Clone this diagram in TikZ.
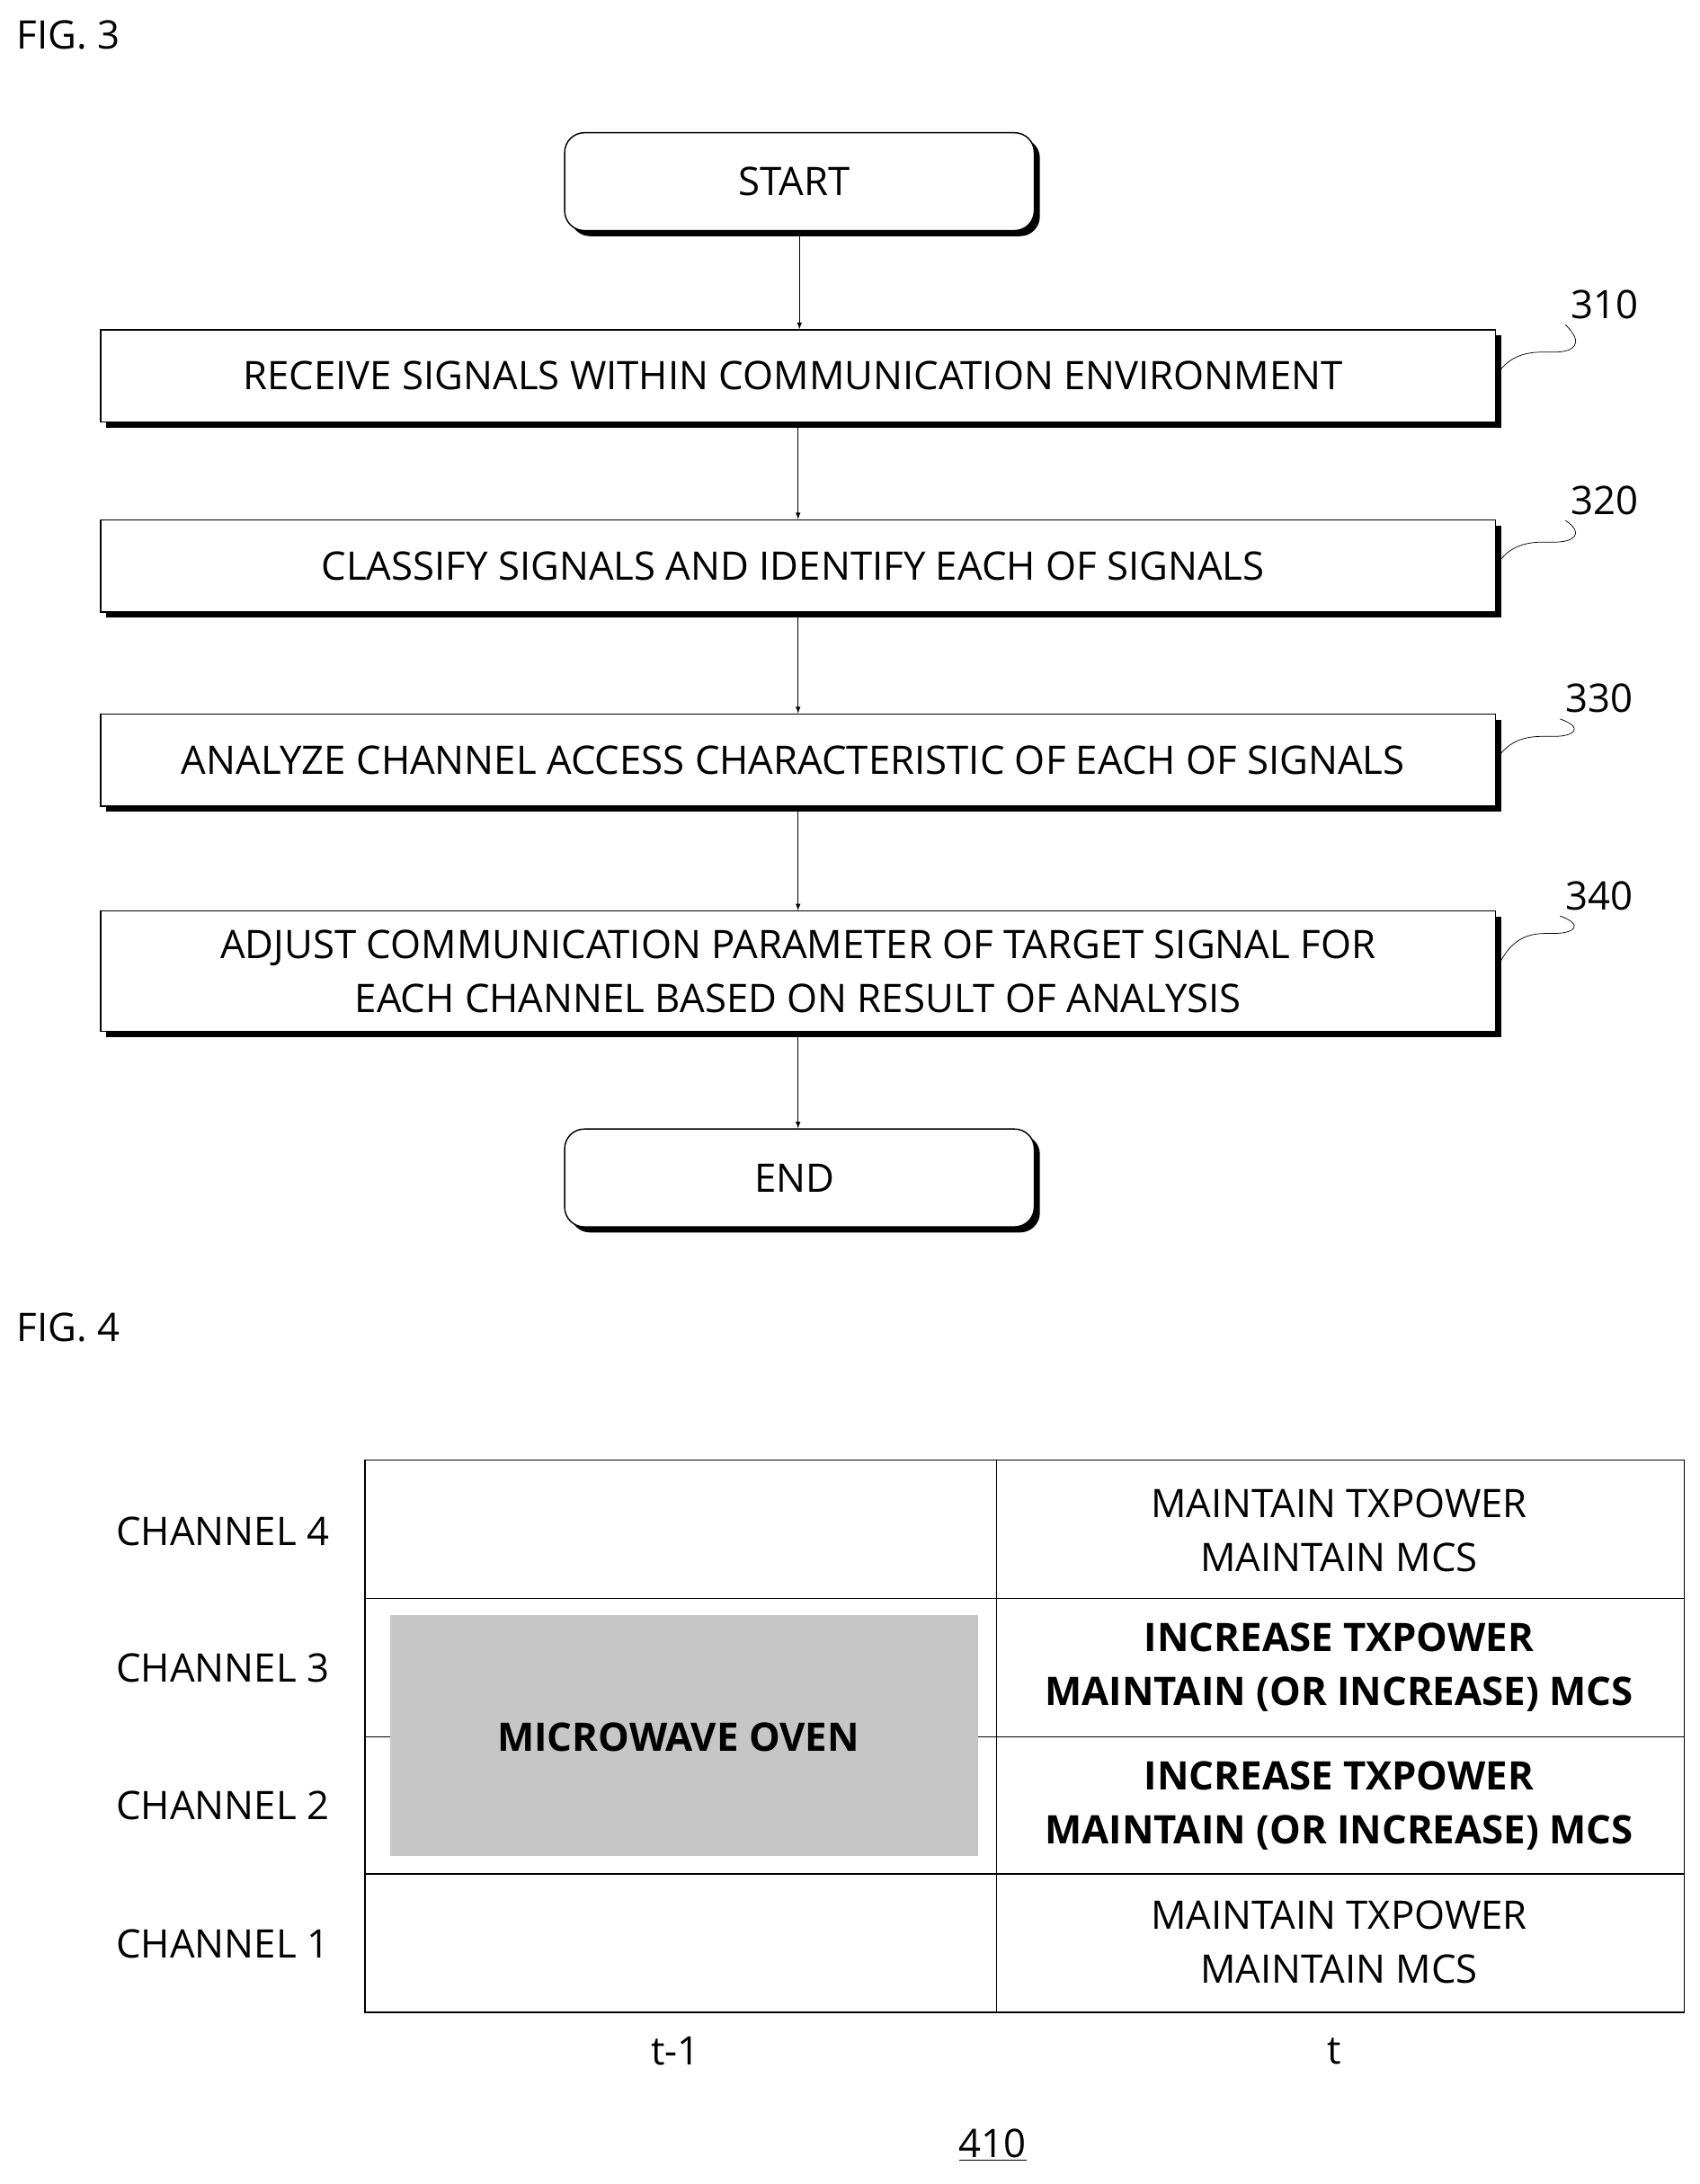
\documentclass[tikz,border=0pt]{standalone}
\usepackage{fontspec}
\setmainfont{Open Sans}
\usetikzlibrary{positioning}
\tikzset{
  txt/.style={font=\fontsize{24}{33}\selectfont, align=center},
  stage/.style={draw, thick, fill=white, txt, minimum width=998*0.03cm, minimum height=66*0.03cm, inner sep=0pt},
  term/.style={stage, rounded corners=12pt, minimum width=336*0.03cm, minimum height=70*0.03cm},
  flow/.style={-latex, thin},
  tag/.style={txt}
}
\begin{document}
\begin{tikzpicture}[x=0.03cm, y=-0.03cm]
  \useasboundingbox (0,0) rectangle (1216,1563);
  \node [anchor=west, txt] (fig3) at (8,25) { FIG. 3 };
  % shadows
  \fill [rounded corners=12pt] (408,99) rectangle (744,169);
  \fill (76,240) rectangle (1074,306);
  \fill (76,376) rectangle (1074,442);
  \fill (76,515) rectangle (1074,581);
  \fill (76,656) rectangle (1074,742);
  \fill [rounded corners=12pt] (408,812) rectangle (744,882);
  % boxes
  \node [term] (start) at (572,130) { START };
  \node [stage] (s310) at (571,269) { RECEIVE SIGNALS WITHIN COMMUNICATION ENVIRONMENT };
  \node [stage] (s320) at (571,405) { CLASSIFY SIGNALS AND IDENTIFY EACH OF SIGNALS };
  \node [stage] (s330) at (571,544) { ANALYZE CHANNEL ACCESS CHARACTERISTIC OF EACH OF SIGNALS };
  \node [stage, minimum height=86*0.03cm] (s340) at (571,695) { ADJUST COMMUNICATION PARAMETER OF TARGET SIGNAL FOR\\EACH CHANNEL BASED ON RESULT OF ANALYSIS };
  \node [term] (end) at (572,843) { END };
  \draw [flow] (start) -- (start |- s310.north);
  \draw [flow] (s310) -- (s320);
  \draw [flow] (s320) -- (s330);
  \draw [flow] (s330) -- (s340);
  \draw [flow] (s340) -- (s340 |- end.north);
  % reference numerals
  \node [tag] (n310) at (1152,218) { 310 };
  \node [tag] (n320) at (1152,358) { 320 };
  \node [tag] (n330) at (1148,500) { 330 };
  \node [tag] (n340) at (1148,641) { 340 };
  \draw (s310.east) .. controls (1082,250) and (1100,252) .. (1112,252) .. controls (1126,252) and (1134,246) .. (n310.south west);
  \draw (s320.east) .. controls (1082,386) and (1100,388) .. (1112,388) .. controls (1126,388) and (1134,382) .. (n320.south west);
  \draw (s330.east) .. controls (1082,525) and (1100,527) .. (1112,527) .. controls (1126,527) and (1134,521) .. (n330.south west);
  \draw (s340.east) .. controls (1082,666) and (1100,668) .. (1112,668) .. controls (1126,668) and (1134,662) .. (n340.south west);

  \node [anchor=west, txt] (fig4) at (8,950) { FIG. 4 };
  % table
  \fill [gray!45] (279,1156) rectangle (700,1328);
  \draw [thick] (261,1045) rectangle (1205,1440);
  \draw (713,1045) -- (713,1440);
  \draw [thick] (261,1144) -- (1205,1144);
  \draw [thick] (261,1341) -- (1205,1341);
  \draw (713,1243) -- (1205,1243);
  \draw (261,1243) -- (279,1243);
  \draw (700,1243) -- (713,1243);
  \node [txt] (ch4) at (163,1096) { CHANNEL 4 };
  \node [txt] (ch3) at (163,1194) { CHANNEL 3 };
  \node [txt] (ch2) at (163,1292) { CHANNEL 2 };
  \node [txt] (ch1) at (163,1391) { CHANNEL 1 };
  \node [txt, font=\fontsize{24}{33}\selectfont\bfseries] (oven) at (489,1243) { MICROWAVE OVEN };
  \node [txt] (a4) at (958,1095) { MAINTAIN TXPOWER\\MAINTAIN MCS };
  \node [txt, font=\fontsize{24}{33}\selectfont\bfseries] (a3) at (958,1193) { INCREASE TXPOWER\\MAINTAIN (OR INCREASE) MCS };
  \node [txt, font=\fontsize{24}{33}\selectfont\bfseries] (a2) at (958,1292) { INCREASE TXPOWER\\MAINTAIN (OR INCREASE) MCS };
  \node [txt] (a1) at (958,1390) { MAINTAIN TXPOWER\\MAINTAIN MCS };
  \node [txt] (tm1) at (487,1468) { t-1 };
  \node [txt] (tt) at (958,1468) { t };
  \node [txt] (n410) at (714,1535) { \underline{410} };
\end{tikzpicture}
\end{document}
